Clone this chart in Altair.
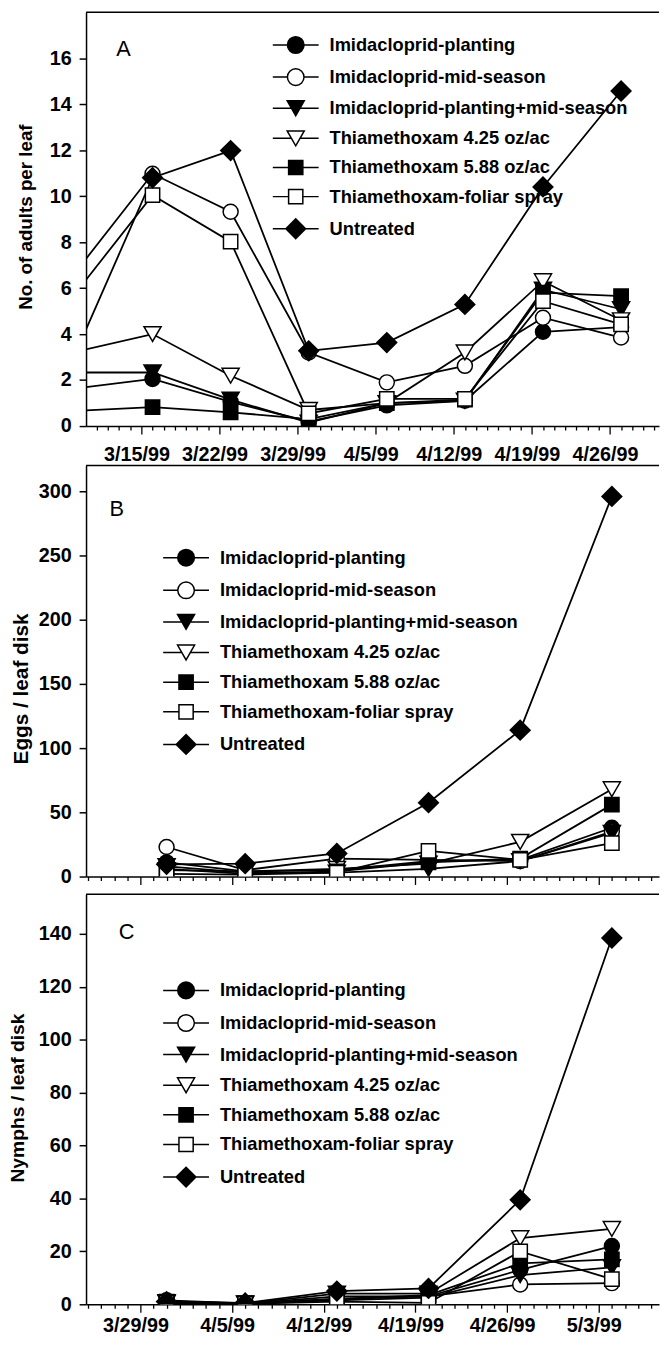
import math
from datetime import date

import altair as alt
import pandas as pd

FONT = "Liberation Sans"

series = [
    "Imidacloprid-planting",
    "Imidacloprid-mid-season",
    "Imidacloprid-planting+mid-season",
    "Thiamethoxam 4.25 oz/ac",
    "Thiamethoxam 5.88 oz/ac",
    "Thiamethoxam-foliar spray",
    "Untreated",
]
marker_fill = ["black", "white", "black", "white", "black", "white", "black"]
marker_shape = ["circle", "circle", "triangle-down", "triangle-down", "square", "square", "diamond"]
marker_size = [230, 230, 300, 300, 210, 210, 400]
legend_paths = [
    "M-2.9,0H-1.05M1.05,0H2.9M-1.05,0A1.05,1.05,0,1,0,1.05,0A1.05,1.05,0,1,0,-1.05,0Z",
    "M-2.9,0H-1.05M1.05,0H2.9M-1.05,0A1.05,1.05,0,1,0,1.05,0A1.05,1.05,0,1,0,-1.05,0Z",
    "M-2.9,0H-0.54M0.54,0H2.9M-1.08,-0.94L1.08,-0.94L0,0.94Z",
    "M-2.9,0H-0.54M0.54,0H2.9M-1.08,-0.94L1.08,-0.94L0,0.94Z",
    "M-2.9,0H-0.9M0.9,0H2.9M-0.9,-0.9H0.9V0.9H-0.9Z",
    "M-2.9,0H-0.9M0.9,0H2.9M-0.9,-0.9H0.9V0.9H-0.9Z",
    "M-2.9,0H-1.25M1.25,0H2.9M-1.25,0L0,-1.25L1.25,0L0,1.25Z",
]

# ---------------- Panel A: adults per leaf ----------------
a_dates = ["1999-03-09", "1999-03-16", "1999-03-23", "1999-03-30",
           "1999-04-06", "1999-04-13", "1999-04-20", "1999-04-27"]
a_planting = [1.63, 2.05, 1.05, 0.2, 0.9, 1.1, 4.1, 4.3]
a_mid = [6.63, 10.97, 9.32, 3.2, 1.9, 2.62, 4.71, 3.85]
a_plant_mid = [2.33, 2.33, 1.15, 0.15, 1.0, 1.1, 5.93, 5.08]
a_thia425 = [3.22, 4.0, 2.19, 0.7, 1.0, 3.2, 6.3, 4.6]
a_thia588 = [0.66, 0.82, 0.6, 0.3, 1.0, 1.15, 5.8, 5.65]
a_foliar = [5.72, 10.04, 8.02, 0.55, 1.18, 1.18, 5.43, 4.42]
a_untreated = [3.05, 10.8, 11.98, 3.27, 3.63, 5.29, 10.4, 14.57]
a_tick_dates = ["1999-03-15", "1999-03-22", "1999-03-29", "1999-04-05",
                "1999-04-12", "1999-04-19", "1999-04-26"]
a_tick_labels = ["3/15/99", "3/22/99", "3/29/99", "4/5/99", "4/12/99", "4/19/99", "4/26/99"]
a_yticks = [0, 2, 4, 6, 8, 10, 12, 14, 16]

# ---------------- Panel B: eggs per leaf disk ----------------
bc_dates = ["1999-03-31", "1999-04-06", "1999-04-13", "1999-04-20", "1999-04-27", "1999-05-04"]
b_planting = [11, 4, 5, 12, 13, 38]
b_mid = [23, 5, 14, 13, 12, 35]
b_plant_mid = [8, 3, 3, 6, 12, 34]
b_thia425 = [5, 4, 6, 10, 27, 68]
b_thia588 = [6, 2, 4, 11, 14, 56]
b_foliar = [2, 1.5, 3, 20, 13, 26]
b_untreated = [9.5, 10, 18, 57.5, 114, 296]
b_yticks = [0, 50, 100, 150, 200, 250, 300]

# ---------------- Panel C: nymphs per leaf disk ----------------
c_planting = [1.5, 0.3, 2, 3, 13, 22]
c_mid = [1.2, 0.2, 3, 3, 7.5, 8]
c_plant_mid = [0.5, 0.2, 1.5, 2.5, 11, 14]
c_thia425 = [0.8, 0.3, 4, 4, 25, 28.5]
c_thia588 = [1.0, 0.3, 2, 3.5, 15.5, 17]
c_foliar = [0.5, 0.2, 1, 0.5, 20, 9.5]
c_untreated = [1.0, 0.5, 5, 6, 39.5, 138.5]
bc_tick_dates = ["1999-03-29", "1999-04-05", "1999-04-12", "1999-04-19", "1999-04-26", "1999-05-03"]
c_tick_labels = ["3/29/99", "4/5/99", "4/12/99", "4/19/99", "4/26/99", "5/3/99"]
c_yticks = [0, 20, 40, 60, 80, 100, 120, 140]

BASE = date(1999, 3, 1)


def day(s):
    return (date.fromisoformat(s) - BASE).days


def long_df(dates, cols):
    rows = []
    for name, vals in zip(series, cols):
        for d, v in zip(dates, vals):
            rows.append({"day": day(d), "value": v, "series": name})
    return pd.DataFrame(rows)


W = 580


def panel(df, xdom, ydom, yticks, ytitle, tick_dates, tick_labels, letter,
          letter_xy, legend_xy, row_pad, title_x, title_y, title_fs, H, bottom_ext, lab_pad):
    tick_days = [day(d) for d in tick_dates]
    arr = "[" + ",".join(str(t) for t in tick_days) + "]"
    all_days = list(range(math.ceil(xdom[0]), math.floor(xdom[1]) + 1))
    xaxis_kw = dict(
        values=all_days,
        tickSize={"condition": {"test": f"indexof({arr}, datum.value) >= 0", "value": 8}, "value": 4},
        title=None,
        grid=False,
        labelOverlap=False,
        labelFlush=False,
        domainWidth=1.5,
        tickWidth=1.3,
    )
    if tick_labels:
        labs = "[" + ",".join(f"'{t}'" for t in tick_labels) + "]"
        xaxis_kw.update(
            labelExpr=f"indexof({arr}, datum.value) >= 0 ? {labs}[indexof({arr}, datum.value)] : ''",
            labelFontSize=20, labelFontWeight="bold", labelPadding=lab_pad, labelOffset=-5,
            labelFont=FONT, labelColor="black",
        )
    else:
        xaxis_kw.update(labels=False)

    x = alt.X("day:Q", scale=alt.Scale(domain=list(xdom), nice=False, zero=False),
              axis=alt.Axis(**xaxis_kw))
    y = alt.Y("value:Q", scale=alt.Scale(domain=list(ydom), nice=False, zero=True),
              axis=alt.Axis(values=yticks, tickSize=7, tickWidth=1.5, domainWidth=1.5,
                            labelPadding=8, labelFontSize=20, labelFontWeight="bold",
                            labelFont=FONT, labelColor="black", grid=False,
                            title=ytitle, titleFont=FONT, titleFontSize=title_fs,
                            titleFontWeight="bold", titleColor="black",
                            titleAngle=270, titleAlign="center", titleBaseline="alphabetic",
                            titleX=title_x, titleY=title_y))

    layers = [alt.Chart(df).mark_line(color="black", strokeWidth=1.8, clip=True).encode(
        x=x, y=y, detail="series:N")]
    for name, shp, fil, sz in zip(series, marker_shape, marker_fill, marker_size):
        layers.append(
            alt.Chart(df).transform_filter(alt.datum.series == name).mark_point(
                shape=shp, fill=fil, filled=True, size=sz, stroke="black",
                strokeWidth=1.5, opacity=1, clip=True).encode(x=x, y=y))
    leg = alt.Legend(orient="none", legendX=legend_xy[0], legendY=legend_xy[1], title=None,
                     symbolSize=256, symbolStrokeWidth=1.5,
                     labelFont=FONT, labelFontSize=18.5, labelFontWeight="bold",
                     labelColor="black", labelOffset=25, rowPadding=row_pad, labelLimit=500,
                     padding=0, direction="vertical")
    layers.append(alt.Chart(df).transform_filter("false").mark_point(
        filled=True, strokeWidth=1.5, opacity=1).encode(
        x=x, y=y,
        shape=alt.Shape("series:N", scale=alt.Scale(domain=series, range=legend_paths), legend=leg),
        fill=alt.Fill("series:N", scale=alt.Scale(domain=series, range=marker_fill), legend=leg),
        stroke=alt.Stroke("series:N", scale=alt.Scale(domain=series, range=["black"] * len(series)),
                          legend=leg),
    ))
    one = pd.DataFrame({"t": [letter]})
    layers.append(alt.Chart(one).mark_rule(color="black", strokeWidth=1.5).encode(
        x=alt.value(0), x2=alt.value(W), y=alt.value(0)))
    layers.append(alt.Chart(one).mark_rule(color="white", strokeWidth=1).encode(
        x=alt.value(-78.5), y=alt.value(0), y2=alt.value(H + bottom_ext)))
    layers.append(alt.Chart(one).mark_text(font=FONT, fontSize=22, align="center",
                                           baseline="middle", color="black").encode(
        text="t:N", x=alt.value(letter_xy[0]), y=alt.value(letter_xy[1])))
    return alt.layer(*layers).properties(width=W, height=H)


dfA = long_df(a_dates, [a_planting, a_mid, a_plant_mid, a_thia425, a_thia588, a_foliar, a_untreated])
dfB = long_df(bc_dates, [b_planting, b_mid, b_plant_mid, b_thia425, b_thia588, b_foliar, b_untreated])
dfC = long_df(bc_dates, [c_planting, c_mid, c_plant_mid, c_thia425, c_thia588, c_foliar, c_untreated])

pA = panel(dfA, (9.04, 60.4), (0, 18), a_yticks, "No. of adults per leaf",
           a_tick_dates, a_tick_labels, "A", (38, 37), (203, 24), 8.5,
           -55.4, 207, 19, 419, 37.5, 10.5)
pB = panel(dfB, (23.85, 67.6), (0, 320), b_yticks, "Eggs / leaf disk",
           bc_tick_dates, None, "B", (31, 44), (92, 84), 9,
           -59, 225.6, 21, 416, 15.65, 8)
pC = panel(dfC, (23.85, 67.6), (0, 155), c_yticks, "Nymphs / leaf disk",
           bc_tick_dates, c_tick_labels, "C", (41, 38), (92, 88), 9,
           -63, 205.7, 19.5, 415, 26, 3.5)

chart = alt.vconcat(pA, pB, pC, spacing=0).resolve_scale(
    shape="independent", fill="independent", stroke="independent"
).resolve_legend(
    shape="independent", fill="independent", stroke="independent"
).properties(
    padding={"left": 0, "top": -5, "right": 0, "bottom": 0}
).configure_view(stroke=None).configure_axis(
    domainColor="black", tickColor="black"
)

chart.save("out.html", embed_options={"renderer": "svg", "actions": False})
